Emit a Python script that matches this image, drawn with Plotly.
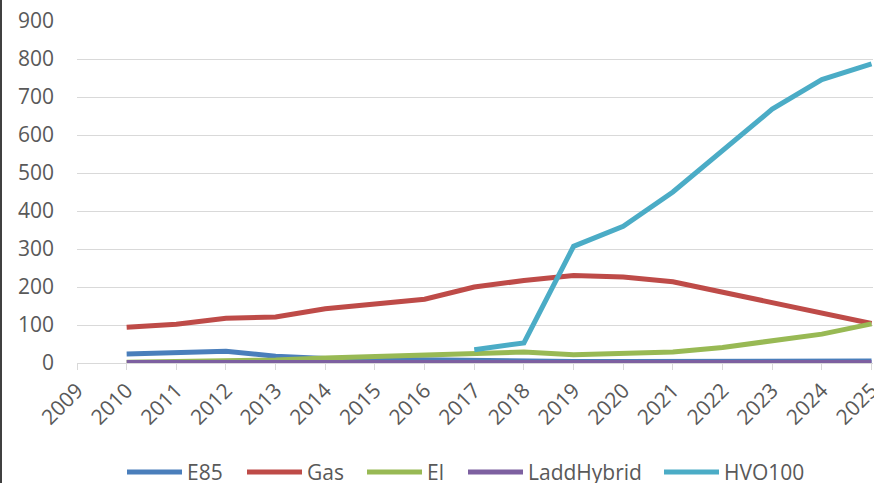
import plotly.graph_objects as go

years = list(range(2010, 2026))
e85 = [24, 29, 31, 18, 12, 10, 8, 6, 5, 4, 4, 4, 4, 5, 5, 5]
gas = [94, 102, 118, 121, 143, 154, 168, 200, 217, 230, 226, 214, 186, 161, 131, 104]
el = [2, 3, 5, 8, 13, 17, 20, 22, 29, 22, 25, 29, 41, 60, 76, 103]
ladd = [1, 1, 1, 1, 1, 1, 1, 1, 1, 1, 1, 1, 1, 1, 1, 1]
hvo_years = list(range(2017, 2026))
hvo = [35, 53, 307, 360, 450, 560, 668, 746, 787]

series = [
    ("E85", years, e85, "#4a7ebb"),
    ("Gas", years, gas, "#be4b48"),
    ("El", years, el, "#98b954"),
    ("LaddHybrid", years, ladd, "#7d60a0"),
    ("HVO100", hvo_years, hvo, "#4bacc6"),
]
# legend layout (pixel x of each symbol start)
legend_x = [127, 247, 367, 468, 664]

fig = go.Figure()
for name, xs, ys, color in series:
    fig.add_trace(go.Scatter(x=xs, y=ys, name=name, mode="lines", showlegend=False,
                             line=dict(color=color, width=5), cliponaxis=False))

W, H = 874, 483
L, R, T, B = 77, 1, 21, 120
pw, ph = W - L - R, H - T - B

def px(x):
    return (x - L) / pw

def py(y):
    return (H - B - y) / ph

font = dict(family="Open Sans, Lato, sans-serif", size=21, color="#595959")
fig.update_layout(
    width=W, height=H,
    margin=dict(l=L, r=R, t=T, b=B, autoexpand=False),
    plot_bgcolor="white", paper_bgcolor="white",
    font=font,
    showlegend=False,
    xaxis=dict(range=[2009, 2025.03], tickmode="linear", dtick=1, tick0=2009,
               tickangle=-45, showgrid=False, showline=True, linecolor="#d9d9d9",
               linewidth=1, ticks="outside", ticklen=6, tickcolor="#d9d9d9",
               zeroline=False, tickfont=font, automargin=False,
               ticklabeloverflow="allow"),
    yaxis=dict(range=[0, 900], tickmode="linear", dtick=100, showgrid=True,
               gridcolor="#d9d9d9", gridwidth=1.3, zeroline=False, showline=False,
               ticklabelstandoff=22, tickfont=font, automargin=False),
)

ly = 472
for (name, _, _, color), x0 in zip(series, legend_x):
    fig.add_shape(type="line", xref="paper", yref="paper",
                  x0=px(x0), x1=px(x0 + 55), y0=py(ly), y1=py(ly),
                  line=dict(color=color, width=5))
    fig.add_annotation(xref="paper", yref="paper", x=px(x0 + 58), y=py(ly),
                       text=name, showarrow=False, xanchor="left", yanchor="middle",
                       font=dict(family="Open Sans, Lato, sans-serif", size=21,
                                 color="#595959"))

fig.add_shape(type="line", xref="paper", yref="paper",
              x0=px(1), x1=px(1), y0=-B / ph, y1=1 + T / ph,
              line=dict(color="#404040", width=2))

fig.write_html("out.html", config={"displayModeBar": False},
               post_script="document.body.style.margin='0px';document.body.style.overflow='hidden';")
